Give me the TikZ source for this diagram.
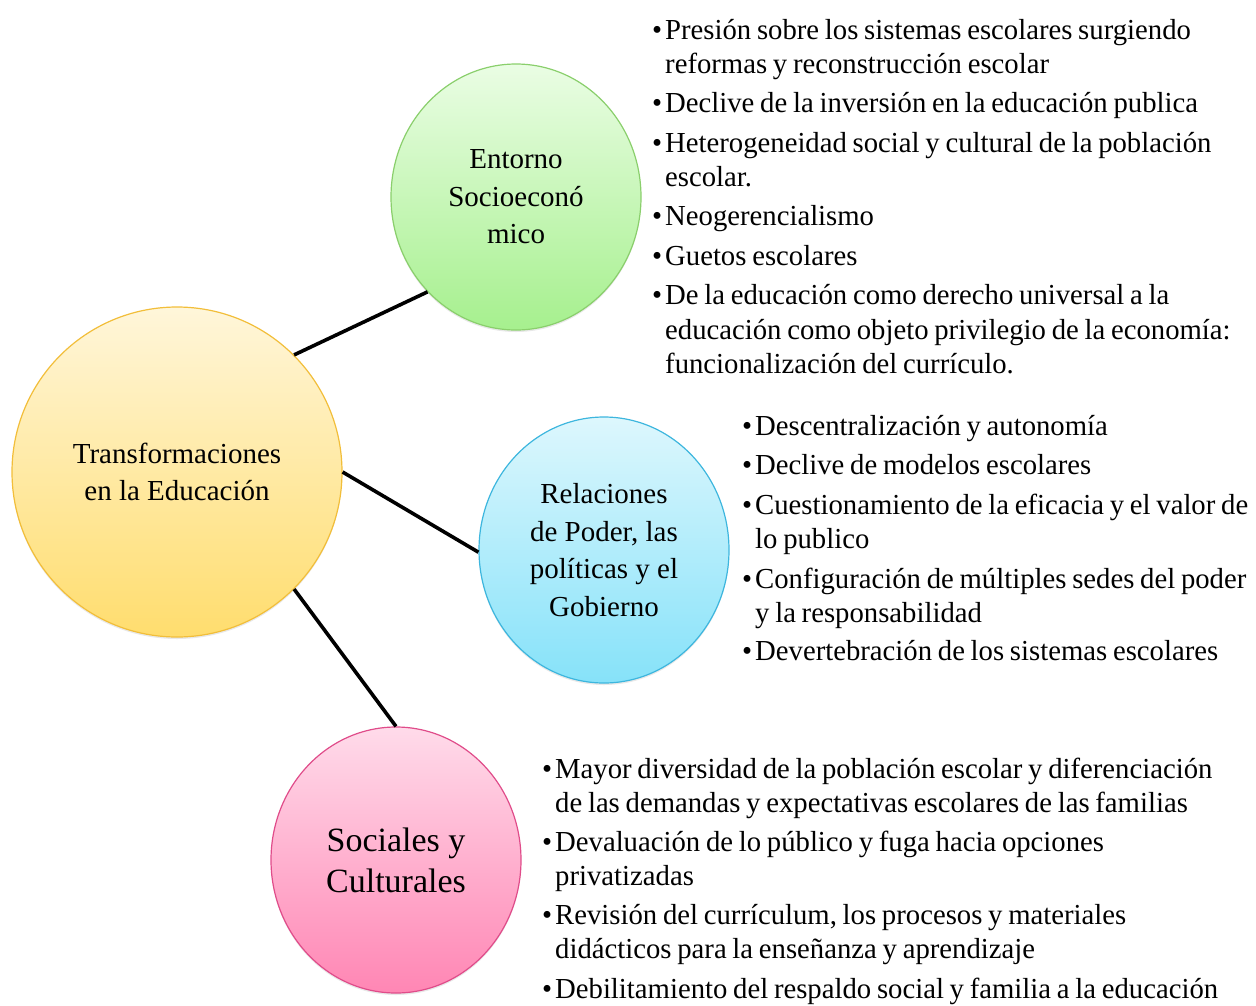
\documentclass[tikz,border=0pt]{standalone}
\usepackage{fontspec}
\setmainfont{Liberation Serif}
\newfontfamily\apretada{Liberation Serif}[WordSpace=0.8,FakeStretch=0.99]
\usetikzlibrary{shapes.geometric,shadows}

\definecolor{amaArriba}{HTML}{FFF6DA}
\definecolor{amaAbajo}{HTML}{FFDD6E}
\definecolor{amaBorde}{HTML}{F2BE3A}
\definecolor{verArriba}{HTML}{EAFDE4}
\definecolor{verAbajo}{HTML}{A6F08E}
\definecolor{verBorde}{HTML}{8ACF6C}
\definecolor{azuArriba}{HTML}{DDF7FD}
\definecolor{azuAbajo}{HTML}{86E2F9}
\definecolor{azuBorde}{HTML}{3DB6DE}
\definecolor{rosArriba}{HTML}{FFDBEA}
\definecolor{rosAbajo}{HTML}{FF86B4}
\definecolor{rosBorde}{HTML}{E04C8A}

\tikzset{
  burbuja/.style={ellipse, draw, line width=1.2pt, inner sep=0pt, align=center,
    minimum width=250pt, minimum height=266pt,
    drop shadow={opacity=0.18, shadow xshift=0pt, shadow yshift=-2pt},
    font=\fontsize{29}{37.5}\selectfont},
  linea/.style={line width=3.6pt},
  renglon/.style={anchor=base west, inner sep=0pt, font=\apretada\fontsize{29}{34}\selectfont}
}
\newcommand\bul{\makebox[13pt][l]{\textbullet}}
\newcommand\nob{\hspace*{13pt}}

\begin{document}
\begin{tikzpicture}[x=1pt,y=-1pt]
\useasboundingbox (0,0) rectangle (1256,1005);

\node[burbuja, minimum width=330pt, minimum height=330pt, draw=amaBorde,
  top color=amaArriba, bottom color=amaAbajo] (cen) at (177,472)
  {Transformaciones\\en la Educación};
\node[burbuja, draw=verBorde, top color=verArriba, bottom color=verAbajo]
  (ent) at (516,197) {Entorno\\Socioeconó\\mico};
\node[burbuja, draw=azuBorde, top color=azuArriba, bottom color=azuAbajo]
  (rel) at (604,550) {Relaciones\\de Poder, las\\políticas y el\\Gobierno};
\node[burbuja, draw=rosBorde, top color=rosArriba, bottom color=rosAbajo,
  font=\fontsize{34}{41}\selectfont] (soc) at (396,860) {Sociales y\\Culturales};

\draw[linea] (cen.45) -- (ent.227);
\draw[linea] (cen.0) -- (rel.181);
\draw[linea] (cen.-45) -- (soc.90);

% entorno
\foreach \y/\t [count=\i] in {
    39/{\bul Presión sobre los sistemas escolares surgiendo},
    73/{\nob reformas y reconstrucción escolar},
    112/{\bul Declive de la inversión en la educación publica},
    152/{\bul Heterogeneidad social y cultural de la población},
    186/{\nob escolar.},
    225/{\bul Neogerencialismo},
    265/{\bul Guetos escolares},
    304/{\bul De la educación como derecho universal a la},
    339/{\nob educación como objeto privilegio de la economía:},
    373/{\nob funcionalización del currículo.}}
  \node[renglon] (e\i) at (652,\y) {\t};

% relaciones
\foreach \y/\t [count=\i] in {
    435/{\bul Descentralización y autonomía},
    474/{\bul Declive de modelos escolares},
    514/{\bul Cuestionamiento de la eficacia y el valor de},
    548/{\nob lo publico},
    588/{\bul Configuración de múltiples sedes del poder},
    622/{\nob y la responsabilidad},
    660/{\bul Devertebración de los sistemas escolares}}
  \node[renglon] (r\i) at (742,\y) {\t};

% sociales
\foreach \y/\t [count=\i] in {
    778/{\bul Mayor diversidad de la población escolar y diferenciación},
    812/{\nob de las demandas y expectativas escolares de las familias},
    851/{\bul Devaluación de lo público y fuga hacia opciones},
    885/{\nob privatizadas},
    924/{\bul Revisión del currículum, los procesos y materiales},
    958/{\nob didácticos para la enseñanza y aprendizaje},
    998/{\bul Debilitamiento del respaldo social y familia a la educación}}
  \node[renglon] (s\i) at (542,\y) {\t};
\end{tikzpicture}
\end{document}
